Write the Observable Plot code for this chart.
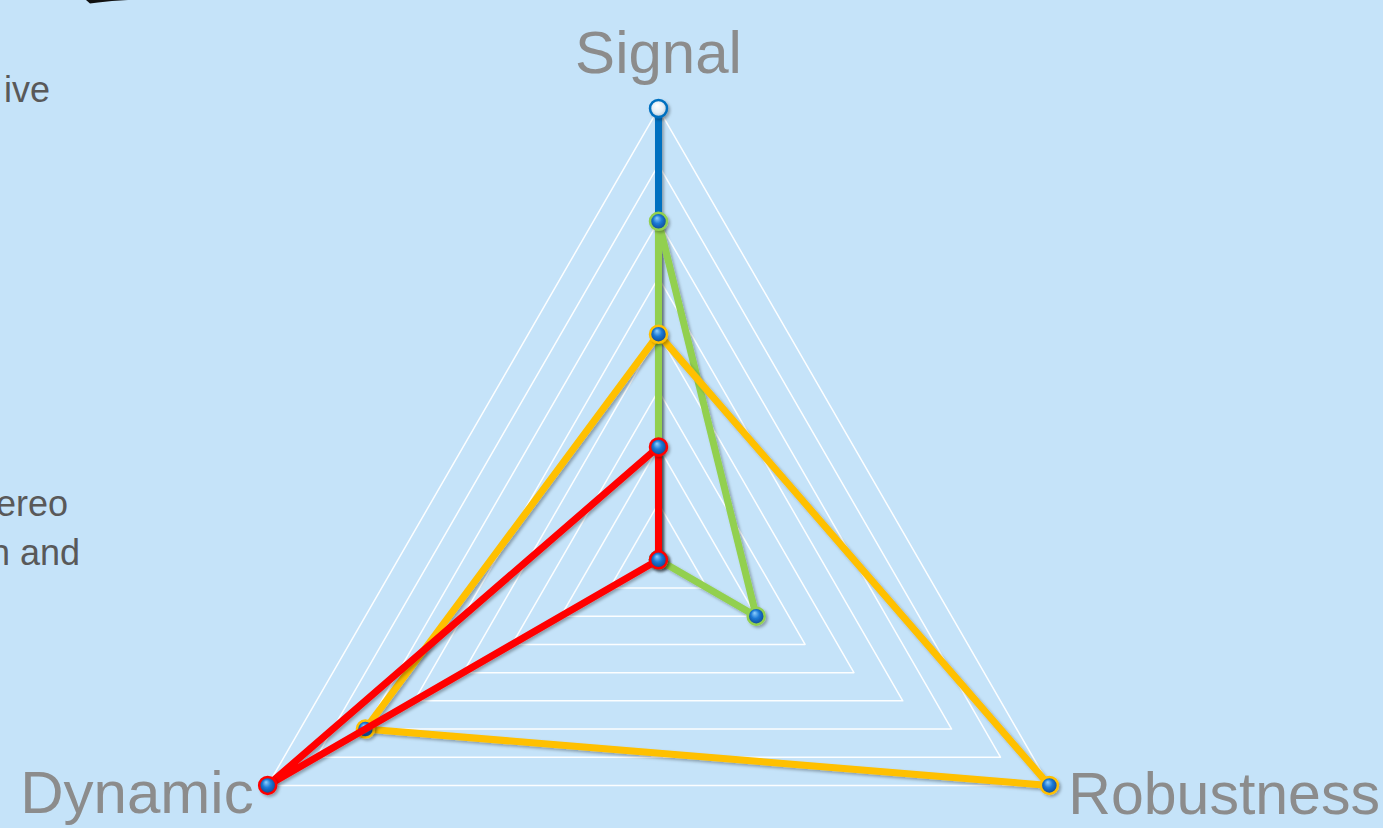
<!DOCTYPE html>
<html><head><meta charset="utf-8">
<script src="https://cdn.jsdelivr.net/npm/d3@7"></script>
<script src="https://cdn.jsdelivr.net/npm/@observablehq/plot@0.6"></script>
<style>
html,body{margin:0;padding:0;background:#C5E3F9;overflow:hidden}
#chart{position:relative;width:1383px;height:828px}
#chart svg{display:block}
</style></head><body><div id="chart"></div>
<script>
// ---- data ----
const axes = ["Signal", "Robustness", "Dynamic"];
const axisAngles = [90, -30, 210];
const levels = [1, 2, 3, 4, 5, 6, 7, 8];
const seriesNames = ["Series 1", "Series 2", "Series 3", "Series 4"];
const series1 = [8, 0, 0];
const series2 = [6, 2, 0];
const series3 = [4, 8, 6];
const series4 = [2, 0, 8];
const sideTexts = ["ive", "ereo", "n and"];

// ---- styles ----
const seriesColors = ["#0070C0", "#92D050", "#FFC000", "#FF0000"];
const markerFills = ["url(#gWhite)", "url(#gBlue)", "url(#gBlue)", "url(#gBlue)"];

const rad = d => d * Math.PI / 180;
const px = (v, i) => v * Math.cos(rad(axisAngles[i]));
const py = (v, i) => v * Math.sin(rad(axisAngles[i]));

const seriesValues = [series1, series2, series3, series4];
const seriesData = seriesNames.map((name, s) =>
  seriesValues[s].map((v, i) => ({series: name, axis: axes[i], value: v, x: px(v, i), y: py(v, i)})));
const closed = arr => arr.concat([arr[0]]);

const gridData = levels.flatMap(l =>
  closed(axes.map((a, i) => ({level: l, x: px(l, i), y: py(l, i)}))));

const maxLevel = d3.max(levels);
const labelData = axes.map((a, i) => ({axis: a, x: px(maxLevel, i), y: py(maxLevel, i)}));

const k = 451.3 / maxLevel;
const cx = 658, cy = 559.3, W = 1383, H = 828;

const marks = [
  Plot.line(gridData, {x: "x", y: "y", z: "level", stroke: "white", strokeWidth: 1.5, strokeOpacity: 0.95})
];
seriesData.forEach((d, s) => {
  marks.push(Plot.line(closed(d), {x: "x", y: "y", stroke: seriesColors[s], strokeWidth: 7, strokeLinejoin: "round"}));
  marks.push(Plot.dot(d, {x: "x", y: "y", r: 8.5, fill: markerFills[s], stroke: seriesColors[s], strokeWidth: 2.5}));
});
marks.push(
  Plot.text(labelData.filter(d => d.axis === "Signal"), {x: "x", y: "y", text: "axis", fontSize: 60, fill: "#8C8C8C", textAnchor: "middle", lineAnchor: "bottom", dy: -36}),
  Plot.text(labelData.filter(d => d.axis === "Dynamic"), {x: "x", y: "y", text: "axis", fontSize: 60, fill: "#8C8C8C", textAnchor: "end", lineAnchor: "bottom", dx: -14, dy: 28}),
  Plot.text(labelData.filter(d => d.axis === "Robustness"), {x: "x", y: "y", text: "axis", fontSize: 59, fill: "#8C8C8C", textAnchor: "start", lineAnchor: "bottom", dx: 19, dy: 29})
);

const chart = Plot.plot({
  width: W, height: H, margin: 0,
  style: {background: "#C5E3F9", fontFamily: "'Liberation Sans', Arial, sans-serif"},
  x: {domain: [-cx / k, (W - cx) / k], axis: null},
  y: {domain: [-(H - cy) / k, cy / k], axis: null},
  marks
});

const svg = d3.select(chart);
const defs = svg.insert("defs", ":first-child");
const gb = defs.append("radialGradient").attr("id", "gBlue").attr("cx", "50%").attr("cy", "50%").attr("r", "55%").attr("fx", "40%").attr("fy", "30%");
gb.append("stop").attr("offset", "0%").attr("stop-color", "#8ED0FF");
gb.append("stop").attr("offset", "45%").attr("stop-color", "#1C7AD6");
gb.append("stop").attr("offset", "100%").attr("stop-color", "#0B3F85");
const gw = defs.append("radialGradient").attr("id", "gWhite").attr("cx", "50%").attr("cy", "50%").attr("r", "55%").attr("fx", "40%").attr("fy", "30%");
gw.append("stop").attr("offset", "0%").attr("stop-color", "#FFFFFF");
gw.append("stop").attr("offset", "60%").attr("stop-color", "#E4EEF6");
gw.append("stop").attr("offset", "100%").attr("stop-color", "#A9BFD2");
const sh = defs.append("filter").attr("id", "shadow").attr("filterUnits", "userSpaceOnUse")
  .attr("x", 0).attr("y", 0).attr("width", W).attr("height", H);
sh.append("feDropShadow").attr("dx", 2).attr("dy", 2).attr("stdDeviation", 1.8).attr("flood-color", "#000").attr("flood-opacity", 0.3);
// apply the shadow to the series groups (lines and dots)
svg.selectAll("g[aria-label=line]").filter((d, i) => i > 0).attr("filter", "url(#shadow)");
svg.selectAll("g[aria-label=dot]").attr("filter", "url(#shadow)");

// cropped slide text fragments on the left
const side = svg.append("g").attr("font-family", "'Liberation Sans', Arial, sans-serif").attr("font-size", 36).attr("fill", "#595959").attr("text-anchor", "end");
const sideAnchors = [[50, 102], [68, 516], [80, 565]];
sideTexts.forEach((t, i) => side.append("text").attr("x", sideAnchors[i][0]).attr("y", sideAnchors[i][1]).text(t));
svg.append("path").attr("d", "M86,0 L128,0 L112,1 L98,2.5 L90,3.5 Z").attr("fill", "#111");

document.getElementById("chart").appendChild(chart);
</script></body></html>
